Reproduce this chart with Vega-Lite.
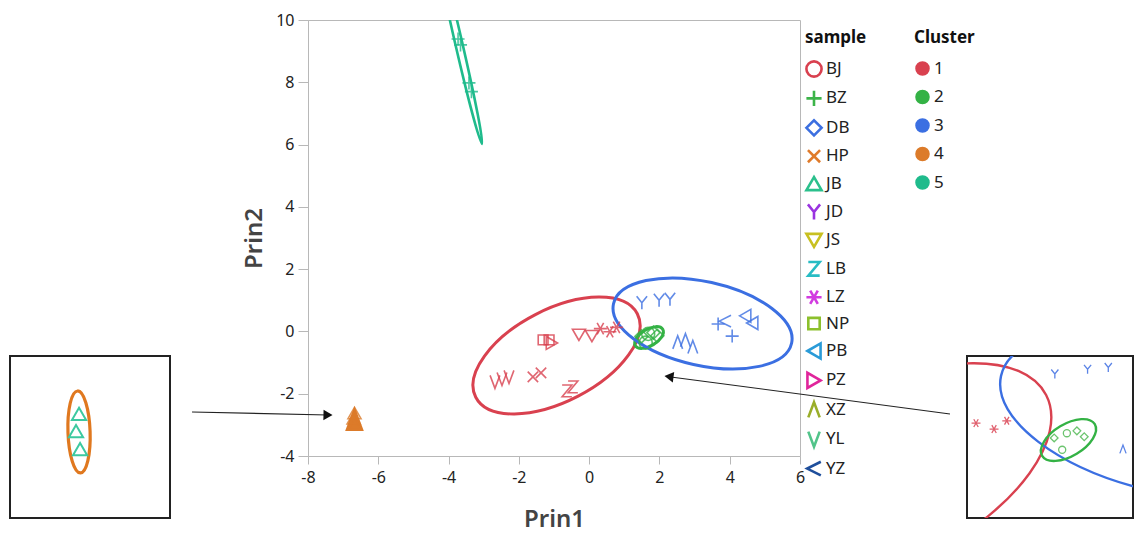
{
  "$schema": "https://vega.github.io/schema/vega-lite/v6.json",
  "padding": {"left": 9, "top": 11, "right": 0, "bottom": 0},
  "background": "white",
  "config": {
    "font": "Noto Sans",
    "view": {"stroke": null},
    "legend": {
      "titleFont": "Noto Sans", "titleFontSize": 17, "titleFontWeight": "bold", "titleColor": "#111",
      "labelFont": "Noto Sans", "labelFontSize": 17, "labelColor": "#222",
      "titlePadding": 13, "labelOffset": 3, "padding": 0
    }
  },
  "datasets": {
    "points": [
      {"sample": "YL", "Cluster": "1", "Prin1": -2.68, "Prin2": -1.62},
      {"sample": "YL", "Cluster": "1", "Prin1": -2.48, "Prin2": -1.53},
      {"sample": "YL", "Cluster": "1", "Prin1": -2.28, "Prin2": -1.46},
      {"sample": "HP", "Cluster": "1", "Prin1": -1.60, "Prin2": -1.46},
      {"sample": "HP", "Cluster": "1", "Prin1": -1.37, "Prin2": -1.33},
      {"sample": "LB", "Cluster": "1", "Prin1": -0.63, "Prin2": -1.91},
      {"sample": "LB", "Cluster": "1", "Prin1": -0.46, "Prin2": -1.78},
      {"sample": "NP", "Cluster": "1", "Prin1": -1.31, "Prin2": -0.27},
      {"sample": "NP", "Cluster": "1", "Prin1": -1.14, "Prin2": -0.27},
      {"sample": "PZ", "Cluster": "1", "Prin1": -1.06, "Prin2": -0.37},
      {"sample": "JS", "Cluster": "1", "Prin1": -0.29, "Prin2": -0.11},
      {"sample": "JS", "Cluster": "1", "Prin1": 0.08, "Prin2": -0.15},
      {"sample": "LZ", "Cluster": "1", "Prin1": 0.32, "Prin2": 0.09},
      {"sample": "LZ", "Cluster": "1", "Prin1": 0.59, "Prin2": -0.01},
      {"sample": "LZ", "Cluster": "1", "Prin1": 0.78, "Prin2": 0.13},
      {"sample": "DB", "Cluster": "2", "Prin1": 1.49, "Prin2": -0.16},
      {"sample": "DB", "Cluster": "2", "Prin1": 1.83, "Prin2": -0.04},
      {"sample": "DB", "Cluster": "2", "Prin1": 1.94, "Prin2": -0.14},
      {"sample": "BJ", "Cluster": "2", "Prin1": 1.68, "Prin2": -0.08},
      {"sample": "BJ", "Cluster": "2", "Prin1": 1.61, "Prin2": -0.36},
      {"sample": "JD", "Cluster": "3", "Prin1": 1.50, "Prin2": 0.92},
      {"sample": "JD", "Cluster": "3", "Prin1": 1.99, "Prin2": 1.00},
      {"sample": "JD", "Cluster": "3", "Prin1": 2.30, "Prin2": 1.03},
      {"sample": "XZ", "Cluster": "3", "Prin1": 2.52, "Prin2": -0.35},
      {"sample": "XZ", "Cluster": "3", "Prin1": 2.74, "Prin2": -0.28},
      {"sample": "XZ", "Cluster": "3", "Prin1": 2.95, "Prin2": -0.50},
      {"sample": "BZ", "Cluster": "3", "Prin1": 3.67, "Prin2": 0.24},
      {"sample": "BZ", "Cluster": "3", "Prin1": 4.07, "Prin2": -0.15},
      {"sample": "YZ", "Cluster": "3", "Prin1": 3.87, "Prin2": 0.33},
      {"sample": "PB", "Cluster": "3", "Prin1": 4.44, "Prin2": 0.50},
      {"sample": "PB", "Cluster": "3", "Prin1": 4.64, "Prin2": 0.27},
      {"sample": "JB", "Cluster": "4", "Prin1": -6.677, "Prin2": -2.621},
      {"sample": "JB", "Cluster": "4", "Prin1": -6.703, "Prin2": -2.787},
      {"sample": "JB", "Cluster": "4", "Prin1": -6.668, "Prin2": -2.962},
      {"sample": "BZ", "Cluster": "5", "Prin1": -3.73, "Prin2": 9.39},
      {"sample": "BZ", "Cluster": "5", "Prin1": -3.66, "Prin2": 9.20},
      {"sample": "BZ", "Cluster": "5", "Prin1": -3.42, "Prin2": 7.98},
      {"sample": "BZ", "Cluster": "5", "Prin1": -3.35, "Prin2": 7.70}
    ],
    "ellipses": [
      {"Cluster": "1", "Prin1": -0.928, "Prin2": -0.773},
      {"Cluster": "2", "Prin1": 1.704, "Prin2": -0.195},
      {"Cluster": "3", "Prin1": 3.227, "Prin2": 0.255},
      {"Cluster": "4", "Prin1": -6.677, "Prin2": -2.796},
      {"Cluster": "5", "Prin1": -3.714, "Prin2": 9.272}
    ],
    "arrows": [
      {"id": "a", "Prin1": -11.30, "Prin2": -2.587, "Prin1_end": -7.431, "Prin2_end": -2.683},
      {"id": "b", "Prin1": 10.268, "Prin2": -2.651, "Prin1_end": 2.272, "Prin2_end": -1.453}
    ],
    "frames": [
      {"inset": "left", "Prin1": -7.272, "Prin1_end": -5.893, "Prin2": -3.633, "Prin2_end": -2.057}
    ]
  },
  "spacing": 138,
  "bounds": "flush",
  "hconcat": [
    {
      "width": 160, "height": 498,
      "view": {"stroke": null},
      "encoding": {
        "x": {"field": "Prin1", "type": "quantitative", "scale": {"domain": [-7.272, -5.893], "nice": false, "zero": false}, "axis": null},
        "y": {"field": "Prin2", "type": "quantitative", "scale": {"domain": [-3.633, 1.211], "nice": false, "zero": false}, "axis": null}
      },
      "layer": [
        {
          "data": {"name": "frames"},
          "mark": {"type": "rect", "fill": "transparent", "stroke": "#222", "strokeWidth": 2},
          "encoding": {"x2": {"field": "Prin1_end"}, "y2": {"field": "Prin2_end"}}
        },
        {
          "data": {"name": "ellipses"},
          "transform": [{"filter": "datum.Cluster === '4'"}],
          "mark": {"type": "point", "shape": "M-1,0A1,0.27,0,1,1,1,0A1,0.27,0,1,1,-1,0Z", "size": 6724, "angle": 88, "filled": false, "color": "#e0781f", "strokeWidth": 3.2, "opacity": 1}
        },
        {
          "data": {"name": "points"},
          "transform": [{"filter": "datum.sample === 'JB'"}],
          "mark": {"type": "point", "shape": "triangle-up", "size": 200, "filled": false, "color": "#3cc9a0", "strokeWidth": 2, "opacity": 1}
        }
      ]
    },
    {
      "spacing": 167,
      "bounds": "flush",
      "hconcat": [
        {
          "width": 492, "height": 436,
          "view": {"stroke": "#b8b8b8", "strokeWidth": 1},
          "encoding": {
            "x": {"field": "Prin1", "type": "quantitative",
              "scale": {"domain": [-8, 6], "nice": false, "zero": false},
              "axis": {"title": "Prin1", "values": [-8, -6, -4, -2, 0, 2, 4, 6], "labelExpr": "'' + datum.value", "grid": false,
                "domainColor": "#b8b8b8", "tickColor": "#b8b8b8", "tickSize": 8, "labelFontSize": 16, "labelColor": "#222", "labelPadding": 5,
                "titleFontSize": 24, "titleFontWeight": 600, "titleColor": "#444", "titlePadding": 22, "labelFlush": false}},
            "y": {"field": "Prin2", "type": "quantitative",
              "scale": {"domain": [-4, 10], "nice": false, "zero": false},
              "axis": {"title": "Prin2", "values": [-4, -2, 0, 2, 4, 6, 8, 10], "labelExpr": "'' + datum.value", "grid": false,
                "domainColor": "#b8b8b8", "tickColor": "#b8b8b8", "tickSize": 10, "labelFontSize": 16, "labelColor": "#222", "labelPadding": 4,
                "titleFontSize": 24, "titleFontWeight": 600, "titleColor": "#444", "titlePadding": 9, "labelFlush": false}}
          },
          "layer": [
            {
              "data": {"name": "ellipses"},
              "transform": [{"filter": "datum.Cluster === '1'"}],
              "mark": {"type": "point", "shape": "M-1,0A1,0.507,0,1,1,1,0A1,0.507,0,1,1,-1,0Z", "size": 33051, "angle": -27.3, "filled": false, "strokeWidth": 3, "opacity": 1, "clip": true},
              "encoding": {"color": {"field": "Cluster", "type": "nominal"}}
            },
            {
              "data": {"name": "ellipses"},
              "transform": [{"filter": "datum.Cluster === '2'"}],
              "mark": {"type": "point", "shape": "M-1,0A1,0.52,0,1,1,1,0A1,0.52,0,1,1,-1,0Z", "size": 1024, "angle": -31, "filled": false, "strokeWidth": 3, "opacity": 1, "clip": true},
              "encoding": {"color": {"field": "Cluster", "type": "nominal"}}
            },
            {
              "data": {"name": "ellipses"},
              "transform": [{"filter": "datum.Cluster === '3'"}],
              "mark": {"type": "point", "shape": "M-1,0A1,0.46,0,1,1,1,0A1,0.46,0,1,1,-1,0Z", "size": 33270, "angle": 12.5, "filled": false, "strokeWidth": 3, "opacity": 1, "clip": true},
              "encoding": {"color": {"field": "Cluster", "type": "nominal"}}
            },
            {
              "data": {"name": "ellipses"},
              "transform": [{"filter": "datum.Cluster === '4'"}],
              "mark": {"type": "point", "shape": "M0,-1L0.75,1L-0.75,1Z", "size": 620, "filled": true, "opacity": 1, "clip": true},
              "encoding": {"color": {"field": "Cluster", "type": "nominal"}}
            },
            {
              "data": {"name": "ellipses"},
              "transform": [{"filter": "datum.Cluster === '5'"}],
              "mark": {"type": "point", "shape": "M-1,0A1,0.034,0,1,1,1,0A1,0.034,0,1,1,-1,0Z", "size": 43264, "angle": 77, "filled": false, "strokeWidth": 2.6, "opacity": 1, "clip": true},
              "encoding": {"color": {"field": "Cluster", "type": "nominal"}}
            },
            {
              "data": {"name": "points"},
              "mark": {"type": "point", "filled": false, "strokeWidth": 1.6, "size": 170, "opacity": 0.8, "clip": true},
              "encoding": {
                "shape": {"field": "sample", "type": "nominal",
                  "scale": {
                    "domain": ["BJ", "BZ", "DB", "HP", "JB", "JD", "JS", "LB", "LZ", "NP", "PB", "PZ", "XZ", "YL", "YZ"],
                    "range": ["circle", "M-1,0L1,0M0,-1L0,1", "diamond", "M-0.8,-0.8L0.8,0.8M-0.8,0.8L0.8,-0.8", "triangle-up", "M-0.8,-1L0,0L0.8,-1M0,0L0,1", "triangle-down", "M-0.75,-0.9L0.75,-0.9L-0.75,0.9L0.75,0.9", "M-1,0L1,0M-0.5,-0.87L0.5,0.87M-0.5,0.87L0.5,-0.87", "M-0.75,-0.75L0.75,-0.75L0.75,0.75L-0.75,0.75Z", "triangle-left", "triangle-right", "M-0.75,1L0,-1L0.75,1", "M-0.75,-1L0,1L0.75,-1", "M0.9,-0.9L-0.9,0L0.9,0.9"]
                  },
                  "legend": {"title": "sample", "orient": "none", "legendX": 795, "legendY": 10, "symbolSize": 230, "symbolStrokeWidth": 2.6, "symbolOpacity": 1, "rowPadding": 3.4}},
                "color": {"field": "Cluster", "type": "nominal",
                  "scale": {"domain": ["1", "2", "3", "4", "5"], "range": ["#d9414f", "#34b245", "#3b6fe2", "#dc7b2a", "#1fbb8c"]},
                  "legend": {"title": "Cluster", "orient": "none", "legendX": 904, "legendY": 10, "symbolType": "circle", "symbolSize": 170, "symbolOpacity": 1, "rowPadding": 7.5}}
              }
            },
            {
              "data": {"name": "points"},
              "mark": {"type": "point", "filled": false, "strokeWidth": 2.6, "size": 0},
              "encoding": {
                "stroke": {"field": "sample", "type": "nominal",
                  "scale": {
                    "domain": ["BJ", "BZ", "DB", "HP", "JB", "JD", "JS", "LB", "LZ", "NP", "PB", "PZ", "XZ", "YL", "YZ"],
                    "range": ["#d9404f", "#3cb449", "#3c6fe0", "#e07b2a", "#2bc08c", "#9a33e0", "#c8c020", "#28bcc4", "#d23be0", "#8cc02c", "#2a9bd8", "#e0259b", "#9aae2a", "#52c48a", "#1f4f9c"]
                  },
                  "legend": {"title": "sample"}}
              }
            },
            {
              "data": {"name": "ellipses"},
              "mark": {"type": "point", "filled": true, "shape": "circle", "size": 0},
              "encoding": {
                "fill": {"field": "Cluster", "type": "nominal",
                  "scale": {"domain": ["1", "2", "3", "4", "5"], "range": ["#d9414f", "#34b245", "#3b6fe2", "#dc7b2a", "#1fbb8c"]},
                  "legend": {"title": "Cluster"}}
              }
            },
            {
              "data": {"name": "arrows"},
              "mark": {"type": "rule", "color": "#222", "strokeWidth": 1.1},
              "encoding": {"x2": {"field": "Prin1_end"}, "y2": {"field": "Prin2_end"}}
            },
            {
              "data": {"name": "arrows"},
              "transform": [{"filter": "datum.id === 'a'"}],
              "mark": {"type": "point", "shape": "triangle-right", "size": 110, "filled": true, "color": "#111", "opacity": 1, "angle": 1.2},
              "encoding": {"x": {"field": "Prin1_end", "type": "quantitative"}, "y": {"field": "Prin2_end", "type": "quantitative"}}
            },
            {
              "data": {"name": "arrows"},
              "transform": [{"filter": "datum.id === 'b'"}],
              "mark": {"type": "point", "shape": "triangle-left", "size": 110, "filled": true, "color": "#111", "opacity": 1, "angle": 7.6},
              "encoding": {"x": {"field": "Prin1_end", "type": "quantitative"}, "y": {"field": "Prin2_end", "type": "quantitative"}}
            }
          ]
        },
        {
          "spacing": 0,
          "bounds": "flush",
          "vconcat": [
            {
              "width": 166, "height": 336,
              "data": {"values": [{}]},
              "mark": {"type": "point", "opacity": 0},
              "view": {"stroke": null}
            },
            {
              "width": 166, "height": 162,
              "view": {"stroke": "#222", "strokeWidth": 2},
              "encoding": {
                "x": {"field": "Prin1", "type": "quantitative", "scale": {"domain": [0.185, 2.670], "nice": false, "zero": false}, "axis": null},
                "y": {"field": "Prin2", "type": "quantitative", "scale": {"domain": [-1.512, 1.224], "nice": false, "zero": false}, "axis": null}
              },
              "layer": [
                {
                  "data": {"name": "ellipses"},
                  "transform": [{"filter": "datum.Cluster === '1'"}],
                  "mark": {"type": "point", "shape": "M-1,0A1,0.507,0,1,1,1,0A1,0.507,0,1,1,-1,0Z", "size": 119300, "angle": -27.3, "filled": false, "color": "#d9414f", "strokeWidth": 2.4, "opacity": 1, "clip": true}
                },
                {
                  "data": {"name": "ellipses"},
                  "transform": [{"filter": "datum.Cluster === '3'"}],
                  "mark": {"type": "point", "shape": "M-1,0A1,0.46,0,1,1,1,0A1,0.46,0,1,1,-1,0Z", "size": 120100, "angle": 12.5, "filled": false, "color": "#3b6fe2", "strokeWidth": 2.4, "opacity": 1, "clip": true}
                },
                {
                  "data": {"name": "ellipses"},
                  "transform": [{"filter": "datum.Cluster === '2'"}],
                  "mark": {"type": "point", "shape": "M-1,0A1,0.52,0,1,1,1,0A1,0.52,0,1,1,-1,0Z", "size": 3770, "angle": -31, "filled": false, "color": "#34b245", "strokeWidth": 2.4, "opacity": 1, "clip": true}
                },
                {
                  "data": {"name": "points"},
                  "transform": [{"filter": "datum.sample === 'LZ'"}],
                  "mark": {"type": "point", "shape": "M-1,0L1,0M-0.5,-0.87L0.5,0.87M-0.5,0.87L0.5,-0.87", "size": 80, "filled": false, "color": "#e0606e", "strokeWidth": 1.3, "opacity": 1, "clip": true}
                },
                {
                  "data": {"name": "points"},
                  "transform": [{"filter": "datum.sample === 'JD'"}],
                  "mark": {"type": "point", "shape": "M-0.8,-1L0,0L0.8,-1M0,0L0,1", "size": 80, "filled": false, "color": "#5b84e6", "strokeWidth": 1.3, "opacity": 1, "clip": true}
                },
                {
                  "data": {"name": "points"},
                  "transform": [{"filter": "datum.sample === 'XZ'"}],
                  "mark": {"type": "point", "shape": "M-0.75,1L0,-1L0.75,1", "size": 70, "filled": false, "color": "#5b84e6", "strokeWidth": 1.3, "opacity": 1, "clip": true}
                },
                {
                  "data": {"name": "points"},
                  "transform": [{"filter": "datum.sample === 'DB'"}],
                  "mark": {"type": "point", "shape": "diamond", "size": 60, "filled": false, "color": "#6cc46f", "strokeWidth": 1.3, "opacity": 1, "clip": true}
                },
                {
                  "data": {"name": "points"},
                  "transform": [{"filter": "datum.sample === 'BJ'"}],
                  "mark": {"type": "point", "shape": "circle", "size": 50, "filled": false, "color": "#6cc46f", "strokeWidth": 1.3, "opacity": 1, "clip": true}
                }
              ]
            }
          ]
        }
      ]
    }
  ]
}
